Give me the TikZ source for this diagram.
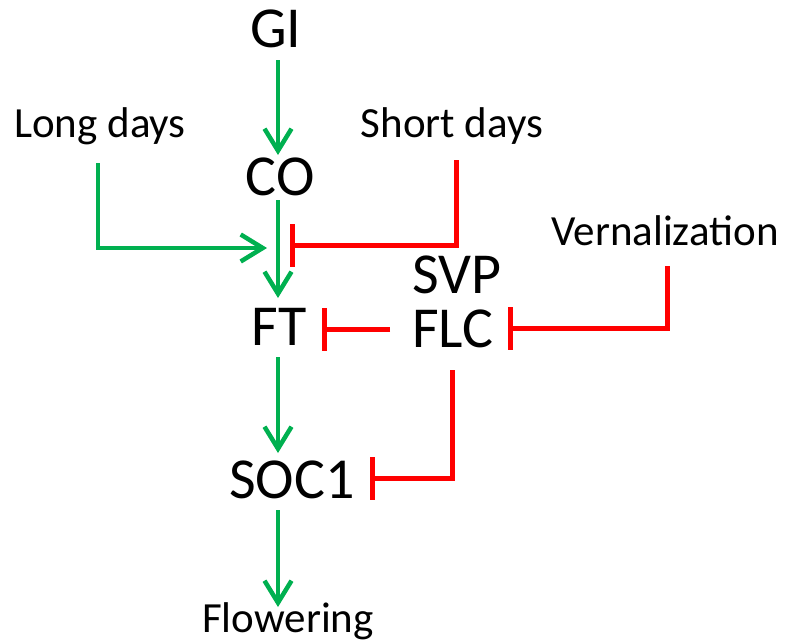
\documentclass[tikz,border=0pt]{standalone}
\usepackage{fontspec}
\setmainfont{Carlito}
\usetikzlibrary{arrows.meta,calc}
\definecolor{pgreen}{RGB}{0,176,80}
\definecolor{pred}{RGB}{255,0,0}
\tikzset{
  big/.style={font=\fontsize{58}{64}\selectfont, inner sep=0pt, anchor=base},
  lbl/.style={font=\fontsize{43}{49}\selectfont, inner sep=0pt, anchor=base},
  act/.style={draw=pgreen, line width=4.5pt, -{Straight Barb[length=22pt,width=27pt]}},
  inh/.style={draw=pred, line width=5pt, -{Bar[width=43pt]}},
}
\begin{document}
\begin{tikzpicture}[x=1pt,y=-1pt]
\useasboundingbox (0,0) rectangle (785,643);
\node[big] (GI) at (276,47) {GI};
\node[big] (CO) at (280,195) {CO};
\node[lbl] (LD) at (100,137) {Long days};
\node[lbl] (SD) at (452,137) {Short days};
\node[lbl] (VN) at (665,245) {Vernalization};
\node[big] (SVP) at (457,293) {SVP};
\node[big] (FLC) at (453,347) {FLC};
\node[big] (FT) at (279,345) {FT};
\node[big] (SOC) at (292,498) {SOC1};
\node[lbl] (FL) at (288,632) {Flowering};
\coordinate (J1) at (278,247);
% activations
\draw[act] ($(GI.base)+(2,13)$) -- ($(CO.base)+(-2,-40)$);
\draw[act] ($(CO.base)+(-2,5)$) -- ($(FT.base)+(-1,-47)$);
\draw[act] ($(LD.base)+(-2,26)$) |- ($(J1)+(-11,1)$);
\draw[act] ($(FT.base)+(-1,12)$) -- ($(SOC.base)+(-14,-45)$);
\draw[act] ($(SOC.base)+(-14,12)$) -- ($(FL.base)+(-10,-25)$);
% inhibitions
\draw[inh] ($(SD.base)+(4,23)$) |- ($(J1)+(12,-2)$);
\draw[inh] ($(FLC.base)+(-63,-18)$) -- ($(FT.base)+(43,-16)$);
\draw[inh] ($(VN.base)+(2,21)$) |- ($(FLC.base)+(55,-19)$);
\draw[inh] ($(FLC.base)+(-1,23)$) |- ($(SOC.base)+(78,-20)$);
\end{tikzpicture}
\end{document}
